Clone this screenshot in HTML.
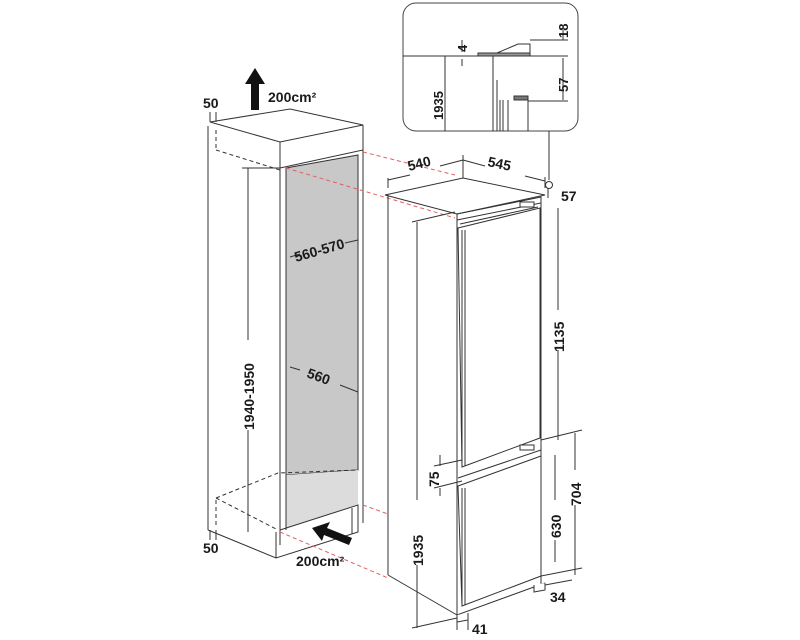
<!DOCTYPE html>
<html><head><meta charset="utf-8"><style>
html,body{margin:0;padding:0;background:#fff;}
svg{display:block;}
text{font-family:"Liberation Sans",sans-serif;font-weight:bold;fill:#1a1a1a;}
</style></head><body>
<svg width="800" height="640" viewBox="0 0 800 640" xmlns="http://www.w3.org/2000/svg">
<g stroke="#333" stroke-width="1" fill="none">
<!-- inset -->
<rect x="403" y="3" width="175" height="128" rx="13" fill="#fff" stroke="#444"/>
<line x1="403" y1="56" x2="495" y2="56"/>
<line x1="445" y1="56" x2="445" y2="131"/>
<rect x="478" y="53" width="52" height="3" fill="#999"/>
<path d="M497 53 L518 44 L530 44 L530 56"/>
<line x1="530" y1="40" x2="568" y2="40"/>
<line x1="530" y1="56" x2="568" y2="56"/>
<line x1="528" y1="101" x2="568" y2="101"/>
<line x1="493" y1="56" x2="493" y2="131"/>
<line x1="497" y1="80" x2="497" y2="131"/>
<line x1="500" y1="100" x2="500" y2="131"/>
<line x1="503" y1="100" x2="503" y2="131"/>
<line x1="508" y1="100" x2="508" y2="131"/>
<line x1="528" y1="100" x2="528" y2="131"/>
<rect x="514" y="96" width="14" height="4" fill="#777"/>
<line x1="462" y1="40" x2="462" y2="52"/><line x1="462" y1="59" x2="462" y2="66"/>
<line x1="563" y1="30" x2="563" y2="40"/><line x1="563" y1="58" x2="563" y2="100"/>
<line x1="549" y1="131" x2="549" y2="180"/>
<circle cx="549" cy="185" r="3.5"/>

<!-- cabinet -->
<path d="M208 126 L208 530"/>
<path d="M216 130 L216 150 M216 500 L216 528" stroke-dasharray="4 3"/>
<path d="M210 122 L290 109 L363 125 L280 142 Z" fill="#fff"/>
<path d="M280 142 L280 168 L363 150 L363 125"/>
<path d="M216 150 L280 170" stroke-dasharray="4 3"/>
<path d="M286 168 L358 155 L358 470 L286 475 Z" fill="#c8c8c8"/>
<path d="M286 475 L358 470 L358 505 L286 528 Z" fill="#dcdcdc" stroke="none"/>
<line x1="280" y1="168" x2="280" y2="545"/>
<line x1="286" y1="168" x2="286" y2="530"/>
<line x1="363" y1="150" x2="363" y2="523"/>
<path d="M216 498 L278 473 L358 470" stroke-dasharray="4 3"/>
<path d="M216 498 L278 530" stroke-dasharray="4 3"/>
<path d="M208 530 L276 558 L358 532 L358 505 L280 530"/>
<line x1="276" y1="558" x2="276" y2="532"/>
<line x1="352" y1="508" x2="352" y2="534"/>
<!-- red dashed -->
<g stroke="#e06060" stroke-dasharray="4 3">
<line x1="363" y1="152" x2="455" y2="175"/>
<line x1="286" y1="168" x2="455" y2="218"/>
<line x1="363" y1="505" x2="388" y2="514"/>
<line x1="280" y1="532" x2="388" y2="578"/>
</g>
<!-- cabinet dims -->
<line x1="248" y1="168" x2="248" y2="340"/><line x1="248" y1="430" x2="248" y2="532"/>
<line x1="242" y1="168" x2="280" y2="168"/>
<line x1="290" y1="257" x2="300" y2="254"/><line x1="345" y1="243" x2="358" y2="240"/>
<line x1="290" y1="367" x2="300" y2="370"/><line x1="340" y1="385" x2="358" y2="392"/>
<line x1="210" y1="112" x2="210" y2="122"/><line x1="216" y1="112" x2="216" y2="122"/>
<line x1="210" y1="530" x2="210" y2="540"/><line x1="216" y1="530" x2="216" y2="540"/>

<!-- fridge -->
<path d="M385 195 L463 178 L545 195 L457 214 Z" fill="#fff"/>
<line x1="388" y1="195" x2="388" y2="575"/>
<line x1="457" y1="214" x2="457" y2="615"/>
<line x1="541" y1="197" x2="541" y2="585"/>
<path d="M388 575 L457 615 L545 583"/>
<path d="M457 214 L541 197 L541 203 L457 220"/>
<path d="M460 224 L538 207"/>
<path d="M458 228 L540 208 L540 438 L462 467 Z" fill="#fff"/>
<line x1="462" y1="230" x2="462" y2="467"/><line x1="465" y1="230" x2="465" y2="466"/>
<path d="M458 478 L541 450"/>
<path d="M458 486 L541 456 L541 576 L462 606 Z" fill="#fff"/>
<line x1="462" y1="488" x2="462" y2="606"/><line x1="465" y1="488" x2="465" y2="605"/>
<rect x="520" y="202" width="14" height="5" fill="#fff"/>
<rect x="520" y="445" width="14" height="5" fill="#fff"/>
<path d="M534 585 L534 592 L545 590 L545 583" fill="#fff"/>
<path d="M457 615 L457 622 L468 620 L468 613" fill="#fff"/>
<!-- fridge dims -->
<line x1="388" y1="188" x2="388" y2="178"/><line x1="388" y1="180" x2="410" y2="175"/>
<line x1="440" y1="166" x2="463" y2="160"/><line x1="463" y1="155" x2="463" y2="178"/>
<line x1="463" y1="160" x2="485" y2="166"/><line x1="525" y1="176" x2="545" y2="181"/>
<line x1="545" y1="177" x2="545" y2="188"/>
<line x1="417" y1="222" x2="417" y2="500"/><line x1="417" y1="565" x2="417" y2="628"/>
<line x1="412" y1="222" x2="455" y2="212"/>
<line x1="412" y1="628" x2="457" y2="618"/>
<line x1="558" y1="208" x2="558" y2="310"/><line x1="558" y1="350" x2="558" y2="440"/>
<line x1="575" y1="433" x2="575" y2="470"/><line x1="575" y1="505" x2="575" y2="575"/>
<line x1="555" y1="455" x2="555" y2="500"/><line x1="555" y1="540" x2="555" y2="562"/>
<line x1="541" y1="440" x2="582" y2="430"/><line x1="541" y1="576" x2="582" y2="568"/>
<line x1="545" y1="585" x2="572" y2="580"/>
<line x1="440" y1="455" x2="440" y2="466"/><line x1="440" y1="488" x2="440" y2="496"/>
<line x1="434" y1="466" x2="462" y2="460"/><line x1="434" y1="488" x2="462" y2="481"/>
<line x1="548" y1="188" x2="548" y2="198"/>
<line x1="457" y1="618" x2="457" y2="630"/><line x1="468" y1="618" x2="468" y2="630"/>
</g>
<!-- arrows -->
<polygon points="255,68 265,84 259,84 259,110 251,110 251,84 245,84" fill="#111"/>
<polygon points="312,528 330,522 327,528 352,538 349,545 324,535 322,541" fill="#111"/>

<!-- labels -->
<text x="203" y="108" font-size="14">50</text>
<text x="203" y="553" font-size="14">50</text>
<text x="268" y="102" font-size="14">200cm²</text>
<text x="296" y="566" font-size="14">200cm²</text>
<text transform="translate(296,262) rotate(-16)" font-size="14">560-570</text>
<text transform="translate(306,377) rotate(20)" font-size="14">560</text>
<text transform="translate(254,430) rotate(-90)" font-size="14">1940-1950</text>
<text transform="translate(409,171) rotate(-14)" font-size="14">540</text>
<text transform="translate(487,166) rotate(12)" font-size="14">545</text>
<text x="561" y="201" font-size="14">57</text>
<text transform="translate(564,352) rotate(-90)" font-size="14">1135</text>
<text transform="translate(423,566) rotate(-90)" font-size="14">1935</text>
<text transform="translate(581,506) rotate(-90)" font-size="14">704</text>
<text transform="translate(561,538) rotate(-90)" font-size="14">630</text>
<text transform="translate(439,487) rotate(-90)" font-size="14">75</text>
<text x="550" y="602" font-size="14">34</text>
<text x="472" y="634" font-size="14">41</text>
<text transform="translate(467,52) rotate(-90)" font-size="13">4</text>
<text transform="translate(568,38) rotate(-90)" font-size="13">18</text>
<text transform="translate(568,92) rotate(-90)" font-size="13">57</text>
<text transform="translate(443,120) rotate(-90)" font-size="13">1935</text>
</svg>
</body></html>
